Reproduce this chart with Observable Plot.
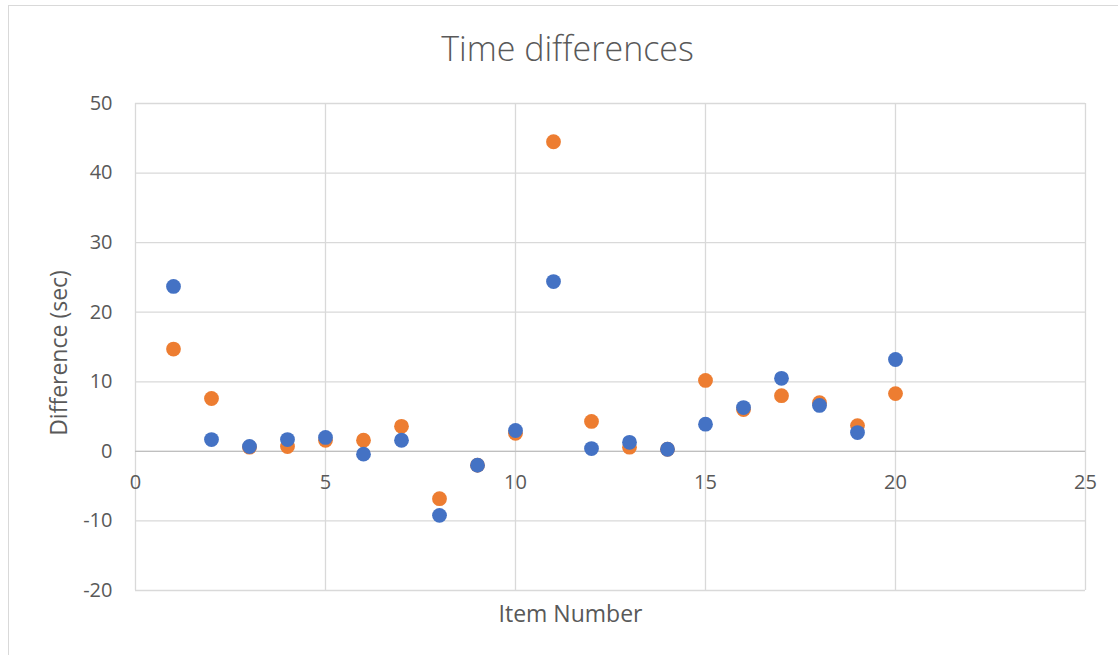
<!DOCTYPE html>
<html>
<head>
<meta charset="utf-8">
<script src="https://cdn.jsdelivr.net/npm/d3@7"></script>
<script src="https://cdn.jsdelivr.net/npm/@observablehq/plot@0.6"></script>
<style>
  html, body { margin: 0; padding: 0; background: #fff; overflow: hidden; }
  #wrap { position: relative; width: 1118px; height: 655px; }
  #border { position: absolute; left: 8px; top: 5px; width: 1200px; height: 700px; border: 1px solid #d9d9d9; box-sizing: border-box; }
  #chart { position: absolute; left: 0; top: 0; }
</style>
</head>
<body>
<div id="wrap"><div id="border"></div><div id="chart"></div></div>
<script>
const items = d3.range(1, 21);
const seriesBlue = [23.7, 1.7, 0.7, 1.7, 2.0, -0.4, 1.6, -9.2, -2.0, 3.0, 24.4, 0.4, 1.3, 0.3, 3.9, 6.3, 10.5, 6.6, 2.7, 13.2];
const seriesOrange = [14.7, 7.6, 0.6, 0.7, 1.6, 1.6, 3.6, -6.8, -2.0, 2.6, 44.5, 4.3, 0.6, 0.3, 10.2, 6.0, 8.0, 7.0, 3.7, 8.3];
const xTicks = [0, 5, 10, 15, 20, 25];
const yTicks = [-20, -10, 0, 10, 20, 30, 40, 50];
const titleText = "Time differences";
const xLabel = "Item Number";
const yLabel = "Difference (sec)";

const orangeData = items.map((x, i) => ({x, y: seriesOrange[i]}));
const blueData = items.map((x, i) => ({x, y: seriesBlue[i]}));
const font = "'Open Sans', sans-serif";
const textColor = "#595959";

const chart = Plot.plot({
  width: 1118,
  height: 655,
  marginLeft: 135,
  marginRight: 33,
  marginTop: 103,
  marginBottom: 65,
  style: {fontFamily: font, background: "transparent"},
  x: {domain: [0, 25], axis: null},
  y: {domain: [-20, 50], axis: null},
  marks: [
    Plot.ruleY(yTicks, {stroke: "#d9d9d9", strokeWidth: 1.3}),
    Plot.ruleX(xTicks, {stroke: "#d9d9d9", strokeWidth: 1.3}),
    Plot.ruleY([0], {stroke: "#bfbfbf", strokeWidth: 1.3}),
    Plot.text(yTicks, {x: 0, y: d => d, text: d => String(d), textAnchor: "end", dx: -23, fontSize: 20, fill: textColor}),
    Plot.text(xTicks, {x: d => d, y: 0, text: d => String(d), dy: 31, fontSize: 20, fill: textColor}),
    Plot.dot(orangeData, {x: "x", y: "y", r: 7.4, fill: "#ED7D31", stroke: "none"}),
    Plot.dot(blueData, {x: "x", y: "y", r: 7.4, fill: "#4472C4", stroke: "none"}),
    Plot.text([titleText], {frameAnchor: "top", lineAnchor: "middle", textAnchor: "middle", dx: -43, dy: -53, text: d => d, fontSize: 34, fill: textColor, fontWeight: 300}),
    Plot.text([xLabel], {frameAnchor: "bottom", lineAnchor: "middle", textAnchor: "middle", dx: -40, dy: 24, text: d => d, fontSize: 23, fill: textColor}),
    Plot.text([yLabel], {frameAnchor: "left", lineAnchor: "middle", textAnchor: "middle", dx: -76, dy: 6, rotate: -90, text: d => d, fontSize: 23, fill: textColor})
  ]
});
document.getElementById("chart").appendChild(chart);
</script>
</body>
</html>
